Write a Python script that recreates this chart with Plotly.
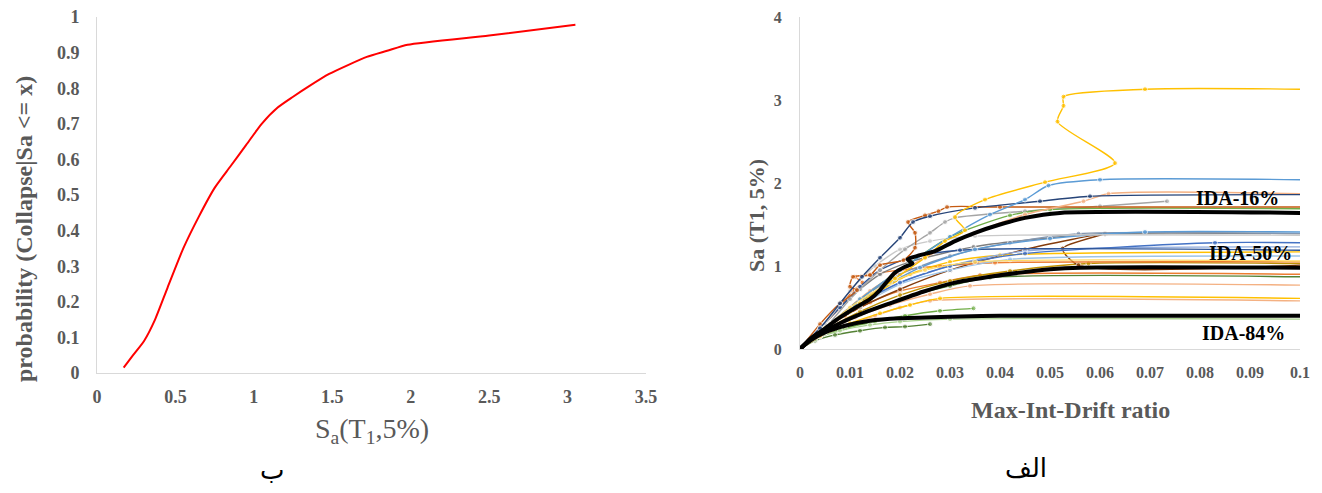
import plotly.graph_objects as go

# ---------------- Left panel: fragility curve ----------------
frag_sa = [0.17, 0.23, 0.30, 0.37, 0.45, 0.55, 0.65, 0.75, 0.85, 0.95, 1.05, 1.15,
           1.25, 1.35, 1.48, 1.60, 1.72, 1.85, 1.98, 2.50, 3.05]
frag_p = [0.015, 0.05, 0.09, 0.15, 0.24, 0.35, 0.44, 0.52, 0.58, 0.64, 0.70, 0.745,
          0.776, 0.805, 0.84, 0.865, 0.888, 0.905, 0.922, 0.948, 0.978]

# ---------------- Right panel: IDA curves ----------------
ida_drift = [
    [0, 0.003, 0.007, 0.012, 0.017, 0.021, 0.026],
    [0, 0.004, 0.009, 0.015, 0.021, 0.028, 0.0347],
    [0, 0.003, 0.008, 0.014, 0.02, 0.03, 0.1],
    [0, 0.004, 0.009, 0.015, 0.02, 0.026, 0.1],
    [0, 0.004, 0.01, 0.016, 0.022, 0.028, 0.1],
    [0, 0.005, 0.011, 0.018, 0.026, 0.034, 0.1],
    [0, 0.005, 0.012, 0.02, 0.03, 0.038, 0.1],
    [0, 0.004, 0.009, 0.014, 0.02, 0.028, 0.036, 0.1],
    [0, 0.005, 0.012, 0.02, 0.03, 0.042, 0.0577, 0.1],
    [0, 0.005, 0.012, 0.02, 0.03, 0.045, 0.061, 0.0525, 0.0557, 0.1],
    [0, 0.004, 0.008, 0.0105, 0.0125, 0.011, 0.014, 0.02, 0.028, 0.039, 0.1],
    [0, 0.005, 0.012, 0.02, 0.03, 0.042, 0.1],
    [0, 0.004, 0.01, 0.016, 0.022, 0.03, 0.04, 0.1],
    [0, 0.004, 0.008, 0.012, 0.016, 0.022, 0.0347, 0.05, 0.061, 0.1],
    [0, 0.005, 0.012, 0.02, 0.03, 0.045, 0.1],
    [0, 0.005, 0.012, 0.02, 0.03, 0.045, 0.083, 0.1],
    [0, 0.004, 0.008, 0.012, 0.016, 0.022, 0.032, 0.1],
    [0, 0.005, 0.012, 0.02, 0.03, 0.042, 0.0557, 0.1],
    [0, 0.006, 0.014, 0.024, 0.035, 0.05, 0.069, 0.1],
    [0, 0.005, 0.01, 0.015, 0.02, 0.026, 0.035, 0.1],
    [0, 0.005, 0.01, 0.016, 0.021, 0.026, 0.029, 0.031, 0.045, 0.06, 0.0734],
    [0, 0.006, 0.012, 0.02, 0.03, 0.042, 0.05, 0.1],
    [0, 0.004, 0.008, 0.0114, 0.01, 0.0106, 0.014, 0.016, 0.0207, 0.023, 0.023,
     0.0216, 0.025, 0.0277, 0.0294, 0.04, 0.1],
    [0, 0.006, 0.014, 0.025, 0.035, 0.045, 0.0567, 0.0617, 0.1],
    [0, 0.004, 0.008, 0.0124, 0.016, 0.02, 0.0226, 0.026, 0.035, 0.048, 0.058, 0.1],
    [0, 0.005, 0.012, 0.02, 0.03, 0.038, 0.045, 0.0497, 0.06, 0.1],
    [0, 0.004, 0.01, 0.018, 0.025, 0.035, 0.1],
    [0, 0.005, 0.012, 0.019, 0.025, 0.029, 0.033, 0.031, 0.037, 0.049, 0.063,
     0.0515, 0.0527, 0.0527, 0.069, 0.1],
]
ida_sa = [
    [0, 0.1, 0.17, 0.22, 0.26, 0.27, 0.30],
    [0, 0.15, 0.25, 0.33, 0.40, 0.46, 0.49],
    [0, 0.12, 0.22, 0.29, 0.33, 0.36, 0.36],
    [0, 0.15, 0.28, 0.40, 0.50, 0.58, 0.58],
    [0, 0.16, 0.31, 0.43, 0.53, 0.61, 0.61],
    [0, 0.20, 0.38, 0.53, 0.66, 0.76, 0.77],
    [0, 0.20, 0.42, 0.60, 0.76, 0.86, 0.87],
    [0, 0.20, 0.40, 0.56, 0.70, 0.80, 0.89, 0.90],
    [0, 0.22, 0.45, 0.65, 0.82, 0.94, 1.03, 1.03],
    [0, 0.25, 0.50, 0.72, 0.95, 1.20, 1.39, 1.21, 1.01, 1.01],
    [0, 0.25, 0.50, 0.70, 0.80, 0.87, 0.90, 0.95, 1.00, 1.04, 1.05],
    [0, 0.24, 0.52, 0.78, 0.95, 1.08, 1.12],
    [0, 0.20, 0.45, 0.70, 0.90, 1.05, 1.13, 1.17],
    [0, 0.25, 0.50, 0.72, 0.90, 1.05, 1.23, 1.34, 1.39, 1.39],
    [0, 0.25, 0.55, 0.80, 1.00, 1.18, 1.23],
    [0, 0.25, 0.55, 0.80, 1.00, 1.15, 1.28, 1.28],
    [0, 0.25, 0.50, 0.75, 0.95, 1.10, 1.19, 1.19],
    [0, 0.25, 0.60, 0.90, 1.12, 1.28, 1.39, 1.39],
    [0, 0.30, 0.65, 0.98, 1.20, 1.33, 1.41, 1.41],
    [0, 0.30, 0.70, 1.00, 1.20, 1.30, 1.36, 1.37],
    [0, 0.25, 0.60, 0.95, 1.20, 1.40, 1.53, 1.58, 1.66, 1.72, 1.78],
    [0, 0.30, 0.60, 0.95, 1.35, 1.61, 1.68, 1.69],
    [0, 0.30, 0.55, 0.71, 0.75, 0.87, 0.89, 1.01, 1.07, 1.22, 1.40, 1.53, 1.61,
     1.66, 1.71, 1.71, 1.71],
    [0, 0.30, 0.70, 1.10, 1.40, 1.62, 1.78, 1.87, 1.87],
    [0, 0.25, 0.55, 0.87, 1.10, 1.34, 1.53, 1.60, 1.70, 1.78, 1.84, 1.86],
    [0, 0.25, 0.60, 0.95, 1.35, 1.62, 1.80, 1.97, 2.04, 2.04],
    [0, 0.20, 0.50, 0.80, 0.95, 1.05, 1.06],
    [0, 0.25, 0.55, 0.85, 1.10, 1.30, 1.43, 1.59, 1.80, 2.01, 2.24, 2.74, 2.93,
     3.04, 3.13, 3.13],
]
ida_colors = [
    "#548235", "#70AD47", "#A9D18E", "#F4B183", "#FFC000", "#F4B183", "#548235",
    "#ED7D31", "#BF9000", "#843C0C", "#ED7D31", "#9DC3E6", "#FFC000", "#7F7F7F",
    "#8FAADC", "#4472C4", "#2F5597", "#8497B0", "#5B9BD5", "#C9C9C9", "#A5A5A5",
    "#70AD47", "#C55A11", "#F4B183", "#264478", "#5B9BD5", "#FFD966", "#FFC000",
]

p16_drift = [0, 0.002, 0.0046, 0.008, 0.0114, 0.014, 0.016, 0.0175, 0.019, 0.021,
             0.0225, 0.0215, 0.024, 0.027, 0.031, 0.035, 0.040, 0.045, 0.052, 0.1]
p16_sa = [0, 0.12, 0.23, 0.38, 0.51, 0.60, 0.71, 0.82, 0.92, 0.99, 1.03, 1.08,
          1.13, 1.18, 1.30, 1.40, 1.50, 1.58, 1.64, 1.64]
p50_drift = [0, 0.003, 0.008, 0.013, 0.018, 0.0246, 0.031, 0.038, 0.044, 0.050,
             0.056, 0.1]
p50_sa = [0, 0.15, 0.31, 0.44, 0.55, 0.69, 0.80, 0.87, 0.92, 0.96, 0.98, 0.98]
p84_drift = [0, 0.002, 0.005, 0.009, 0.014, 0.020, 0.030, 0.040, 0.1]
p84_sa = [0, 0.10, 0.20, 0.28, 0.34, 0.37, 0.39, 0.40, 0.40]

pct_labels = ["IDA-16%", "IDA-50%", "IDA-84%"]
pct_label_x = [0.0874, 0.0900, 0.0886]
pct_label_y = [1.82, 1.16, 0.19]

x_ticks_left = [0, 0.5, 1, 1.5, 2, 2.5, 3, 3.5]
y_ticks_left = [0, 0.1, 0.2, 0.3, 0.4, 0.5, 0.6, 0.7, 0.8, 0.9, 1]
x_ticks_right = [0, 0.01, 0.02, 0.03, 0.04, 0.05, 0.06, 0.07, 0.08, 0.09, 0.1]
y_ticks_right = [0, 1, 2, 3, 4]

W, H = 1322, 493
OFF = 8  # page body margin in the browser
SERIF = "Liberation Serif, Times New Roman, serif"
GREY = "#595959"


def fx(xp):
    return (xp - OFF) / W


def fy(yp):
    return (H - (yp - OFF)) / H


fig = go.Figure()

fig.add_trace(go.Scatter(x=frag_sa, y=frag_p, mode="lines",
                         line=dict(color="#FF0000", width=2, shape="spline", smoothing=0.6),
                         xaxis="x", yaxis="y", showlegend=False, hoverinfo="skip"))

for d, s, c in zip(ida_drift, ida_sa, ida_colors):
    sizes = [5] * len(d)
    if d[-1] >= 0.1:
        sizes[-1] = 0
    fig.add_trace(go.Scatter(x=d, y=s, mode="lines+markers",
                             line=dict(color=c, width=1.4, shape="spline", smoothing=0.7),
                             marker=dict(color=c, size=sizes),
                             xaxis="x2", yaxis="y2", showlegend=False, hoverinfo="skip"))

for d, s in [(p16_drift, p16_sa), (p50_drift, p50_sa), (p84_drift, p84_sa)]:
    fig.add_trace(go.Scatter(x=d, y=s, mode="lines",
                             line=dict(color="#000000", width=4, shape="spline", smoothing=0.7),
                             xaxis="x2", yaxis="y2", showlegend=False, hoverinfo="skip"))

for t, lx, ly in zip(pct_labels, pct_label_x, pct_label_y):
    fig.add_annotation(x=lx, y=ly, xref="x2", yref="y2", text=t, showarrow=False,
                       xanchor="center", yanchor="middle",
                       font=dict(family=SERIF, size=20, color="#000000", weight="bold"))

axis_common = dict(showgrid=False, zeroline=False, showline=True, linecolor="#D9D9D9",
                   linewidth=1, ticks="", automargin=False, ticklabeloverflow="allow")

fig.update_layout(
    width=W, height=H, paper_bgcolor="white", plot_bgcolor="white",
    margin=dict(l=0, r=0, t=0, b=0, pad=0), autosize=False,
    xaxis=dict(domain=[fx(97), fx(646)], range=[0, 3.5], tickvals=x_ticks_left,
               ticktext=[f"{v:g}" for v in x_ticks_left], anchor="y", ticklabelstandoff=7,
               tickfont=dict(family=SERIF, size=18, color=GREY, weight="bold"), **axis_common),
    yaxis=dict(domain=[fy(373), fy(17)], range=[0, 1], tickvals=y_ticks_left,
               ticktext=[f"{v:g}" for v in y_ticks_left], anchor="x", ticklabelstandoff=13,
               tickfont=dict(family=SERIF, size=18, color=GREY, weight="bold"), **axis_common),
    xaxis2=dict(domain=[fx(800), fx(1300)], range=[0, 0.1], tickvals=x_ticks_right,
                ticktext=[f"{v:g}" for v in x_ticks_right], anchor="y2", ticklabelstandoff=9,
                tickfont=dict(family=SERIF, size=16, color=GREY, weight="bold"), **axis_common),
    yaxis2=dict(domain=[fy(349), fy(17)], range=[0, 4], tickvals=y_ticks_right,
                ticktext=[f"{v:g}" for v in y_ticks_right], anchor="x2", ticklabelstandoff=14,
                tickfont=dict(family=SERIF, size=16, color=GREY, weight="bold"), **axis_common),
)

center = dict(xref="paper", yref="paper", showarrow=False, xanchor="center", yanchor="middle")
fig.add_annotation(x=fx(24), y=fy(229), text="probability (Collapse|Sa <= x)",
                   textangle=-90,
                   font=dict(family=SERIF, size=24, color=GREY, weight="bold"), **center)
fig.add_annotation(x=fx(372), y=fy(430), text="S<sub>a</sub>(T<sub>1</sub>,5%)",
                   font=dict(family=SERIF, size=28, color=GREY), **center)
fig.add_annotation(x=fx(756), y=fy(216), text="Sa (T1, 5%)", textangle=-90,
                   font=dict(family=SERIF, size=22, color=GREY, weight="bold"), **center)
fig.add_annotation(x=fx(1070), y=fy(410), text="Max-Int-Drift ratio",
                   font=dict(family=SERIF, size=24, color=GREY, weight="bold"), **center)
fig.add_annotation(x=fx(272), y=fy(470), text="ب",
                   font=dict(family="DejaVu Sans", size=26, color="#000000"), **center)
fig.add_annotation(x=fx(1026), y=fy(468), text="الف",
                   font=dict(family="DejaVu Sans", size=26, color="#000000"), **center)

fig.write_html("out.html")
